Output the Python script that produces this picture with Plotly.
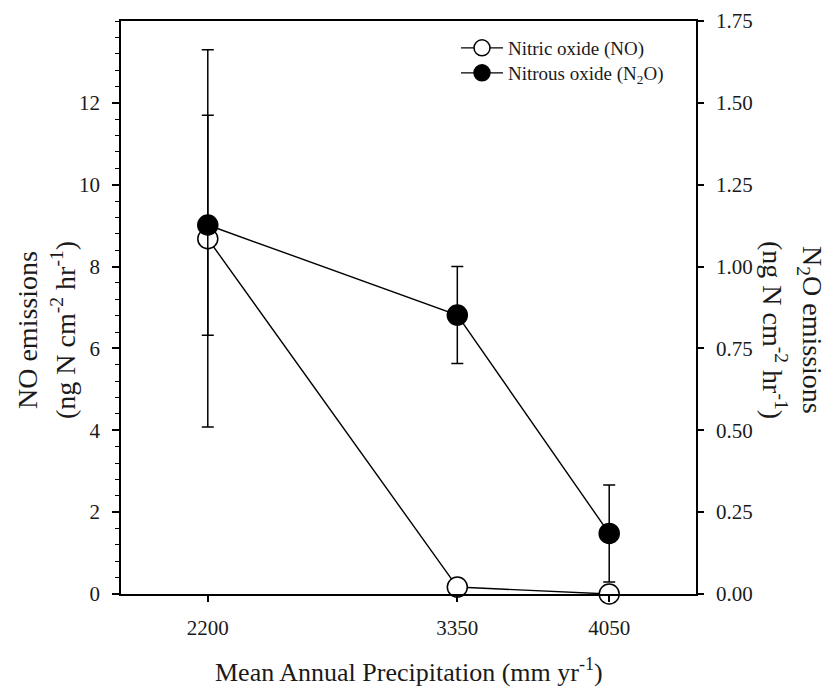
import plotly.graph_objects as go

precip = [2200, 3350, 4050]
no_vals = [8.68, 0.17, 0.0]
no_err_plus = [3.02, 0.0, 0.0]
no_err_minus = [2.36, 0.0, 0.0]
n2o_vals = [1.127, 0.852, 0.185]
n2o_err_plus = [0.535, 0.148, 0.148]
n2o_err_minus = [0.617, 0.148, 0.148]

x_ticks = [2200, 3350, 4050]
left_ticks = [0, 2, 4, 6, 8, 10, 12]
right_ticks = [0.0, 0.25, 0.5, 0.75, 1.0, 1.25, 1.5, 1.75]

FONT = "Liberation Serif"
TXT = "#1a1a1a"

# figure is drawn 8px in from the page corner (default body margin)
W, H = 826, 682
L, T, R, B = 113, 13, 138, 96
PW, PH = W - L - R, H - T - B


def px_x(x):
    return (x - L) / PW


def px_y(y):
    return (T + PH - y) / PH


fig = go.Figure()
fig.add_trace(go.Scatter(
    x=precip, y=no_vals, name="Nitric oxide (NO)", mode="lines+markers",
    legend="legend",
    line=dict(color="black", width=1.4),
    marker=dict(symbol="circle", size=20, color="white", line=dict(color="black", width=1.5)),
    error_y=dict(type="data", symmetric=False, array=no_err_plus, arrayminus=no_err_minus,
                 color="black", thickness=1.5, width=6),
    cliponaxis=False,
))
fig.add_trace(go.Scatter(
    x=precip, y=n2o_vals, name="Nitrous oxide (N<sub>2</sub>O)", mode="lines+markers",
    yaxis="y2", legend="legend2",
    line=dict(color="black", width=1.4),
    marker=dict(symbol="circle", size=20, color="black", line=dict(color="black", width=1.5)),
    error_y=dict(type="data", symmetric=False, array=n2o_err_plus, arrayminus=n2o_err_minus,
                 color="black", thickness=1.5, width=6),
    cliponaxis=False,
))

leg_common = dict(xanchor="left", yanchor="middle", itemwidth=42,
                  font=dict(family=FONT, size=19, color=TXT),
                  bgcolor="rgba(0,0,0,0)", borderwidth=0)

fig.update_layout(
    width=W, height=H,
    margin=dict(l=L, r=R, t=T, b=B, autoexpand=False),
    paper_bgcolor="white", plot_bgcolor="white",
    font=dict(family=FONT, size=21, color=TXT),
    showlegend=True,
    legend=dict(x=px_x(448), y=px_y(40), **leg_common),
    legend2=dict(x=px_x(448), y=px_y(65), **leg_common),
    xaxis=dict(range=[1800, 4450], tickvals=x_ticks, ticktext=[str(v) for v in x_ticks],
               showline=True, linecolor="black", linewidth=1.5, mirror=True,
               ticks="outside", ticklen=6, tickwidth=1.5, tickcolor="black",
               ticklabelstandoff=8, automargin=False,
               showgrid=False, zeroline=False),
    yaxis=dict(range=[0, 14], tickvals=left_ticks,
               showline=True, linecolor="black", linewidth=1.5,
               ticks="outside", ticklen=7, tickwidth=1.5, tickcolor="black",
               ticklabelstandoff=8, automargin=False,
               showgrid=False, zeroline=False,
               minor=dict(tick0=0, dtick=0.4, ticks="outside", ticklen=4,
                          tickwidth=1.2, tickcolor="black", showgrid=False)),
    yaxis2=dict(range=[0, 1.75], tickvals=right_ticks,
                ticktext=["%.2f" % v for v in right_ticks],
                overlaying="y", side="right",
                showline=True, linecolor="black", linewidth=1.5,
                ticks="outside", ticklen=6, tickwidth=1.5, tickcolor="black",
                ticklabelstandoff=8, automargin=False,
                showgrid=False, zeroline=False),
)

xt_font = dict(family=FONT, size=26, color=TXT)
yt_font = dict(family=FONT, size=28, color=TXT)
annos = [
    dict(text="Mean Annual Precipitation (mm yr<sup>-1</sup>)",
         x=0.5, y=px_y(662), textangle=0, font=xt_font),
    dict(text="NO emissions", x=px_x(19), y=px_y(322), textangle=-90, font=yt_font),
    dict(text="(ng N cm<sup>-2</sup> hr<sup>-1</sup>)", x=px_x(55), y=px_y(322),
         textangle=-90, font=yt_font),
    dict(text="N<sub>2</sub>O emissions", x=px_x(803), y=px_y(322), textangle=90, font=yt_font),
    dict(text="(ng N cm<sup>-2</sup> hr<sup>-1</sup>)", x=px_x(767), y=px_y(322),
         textangle=90, font=yt_font),
]
for a in annos:
    fig.add_annotation(xref="paper", yref="paper", xanchor="center", yanchor="middle",
                       showarrow=False, **a)

fig.write_html("out.html")
